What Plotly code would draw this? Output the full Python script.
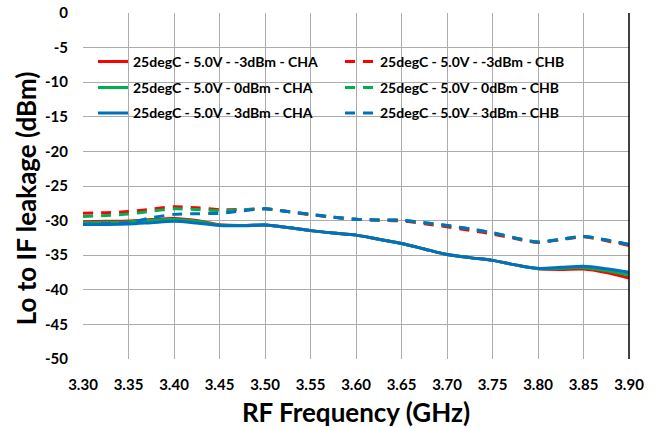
import plotly.graph_objects as go

freq = [3.300, 3.325, 3.350, 3.375, 3.400, 3.425, 3.450, 3.475, 3.500, 3.525,
        3.550, 3.575, 3.600, 3.625, 3.650, 3.675, 3.700, 3.725, 3.750, 3.775,
        3.800, 3.825, 3.850, 3.875, 3.900]

cha_m3 = [-30.15, -30.10, -30.05, -29.85, -29.70, -30.00, -30.60, -30.70, -30.65, -31.00,
          -31.45, -31.80, -32.10, -32.70, -33.30, -34.10, -34.90, -35.35, -35.75, -36.40,
          -36.95, -37.05, -37.00, -37.50, -38.30]
cha_0 = [-30.30, -30.25, -30.20, -29.95, -29.85, -30.10, -30.65, -30.70, -30.65, -31.00,
         -31.45, -31.80, -32.10, -32.70, -33.30, -34.10, -34.90, -35.35, -35.75, -36.40,
         -36.95, -36.90, -36.80, -37.25, -37.85]
cha_3 = [-30.55, -30.55, -30.50, -30.30, -30.10, -30.35, -30.70, -30.75, -30.65, -31.00,
         -31.45, -31.80, -32.10, -32.70, -33.30, -34.10, -34.90, -35.35, -35.75, -36.40,
         -36.90, -36.75, -36.60, -36.95, -37.45]

chb_m3 = [-28.95, -28.85, -28.70, -28.35, -28.00, -28.15, -28.40, -28.40, -28.30, -28.70,
          -29.15, -29.50, -29.80, -29.95, -30.05, -30.45, -30.90, -31.40, -31.95, -32.60,
          -33.15, -32.75, -32.35, -32.90, -33.60]
chb_0 = [-29.40, -29.25, -29.05, -28.65, -28.30, -28.40, -28.55, -28.45, -28.30, -28.70,
         -29.10, -29.50, -29.80, -29.90, -29.95, -30.30, -30.70, -31.20, -31.75, -32.50,
         -33.10, -32.70, -32.30, -32.80, -33.45]
chb_3 = [-30.55, -30.45, -30.30, -29.60, -29.10, -29.00, -28.95, -28.60, -28.30, -28.70,
         -29.10, -29.50, -29.80, -29.90, -29.95, -30.30, -30.70, -31.20, -31.75, -32.50,
         -33.10, -32.70, -32.30, -32.80, -33.45]

names = ["25degC - 5.0V - -3dBm - CHA", "25degC - 5.0V - -3dBm - CHB",
         "25degC - 5.0V - 0dBm - CHA", "25degC - 5.0V - 0dBm - CHB",
         "25degC - 5.0V - 3dBm - CHA", "25degC - 5.0V - 3dBm - CHB"]

y_tick_vals = [0, -5, -10, -15, -20, -25, -30, -35, -40, -45, -50]
y_tick_text = ["0", "-5", "-10", "-15", "-20", "-25", "-30", "-35", "-40", "-45", "-50"]

x_title = "RF Frequency (GHz)"
y_title = "Lo to IF leakage (dBm)"

FONT = "Lato"
RED, GREEN, BLUE = "#ff0000", "#00b050", "#0070c0"
DASH = "10px,8px"

series = [
    (cha_m3, names[0], RED, "solid", "legend"),
    (chb_m3, names[1], RED, DASH, "legend"),
    (cha_0, names[2], GREEN, "solid", "legend2"),
    (chb_0, names[3], GREEN, DASH, "legend2"),
    (cha_3, names[4], BLUE, "solid", "legend3"),
    (chb_3, names[5], BLUE, DASH, "legend3"),
]

fig = go.Figure()
for vals, nm, col, dash, lg in series:
    fig.add_trace(go.Scatter(
        x=freq, y=vals, name=nm, mode="lines",
        line=dict(color=col, width=3, dash=dash, shape="spline", smoothing=0.8),
        legend=lg,
    ))

# white legend background covering gridlines
fig.add_shape(type="rect", xref="paper", yref="paper", x0=0.0147, x1=0.9835,
              y0=0.670, y1=0.898, fillcolor="white", line=dict(width=0), layer="between")
# black right border
fig.add_shape(type="line", xref="paper", yref="paper", x0=1, x1=1, y0=0, y1=1,
              line=dict(color="black", width=1.5), layer="above")

# y axis title (placed like the reference, slightly below the plot centre)
fig.add_annotation(text=y_title, xref="paper", yref="paper", x=-0.104, y=0.465,
                   xanchor="center", yanchor="middle", textangle=-90, showarrow=False,
                   font=dict(family=FONT, size=26, color="black", weight="bold"))

legend_common = dict(orientation="h", xanchor="left", yanchor="middle",
                     x=0.0183, bgcolor="rgba(0,0,0,0)", borderwidth=0,
                     entrywidth=202, entrywidthmode="pixels",
                     font=dict(family=FONT, size=14, color="black", weight="bold"))

fig.update_layout(
    width=658, height=428,
    margin=dict(l=83, r=29, t=13, b=69, autoexpand=False),
    paper_bgcolor="white", plot_bgcolor="white",
    font=dict(family=FONT, color="black"),
    showlegend=True,
    legend=dict(y=0.8586, **legend_common),
    legend2=dict(y=0.7836, **legend_common),
    legend3=dict(y=0.7098, **legend_common),
    xaxis=dict(
        range=[3.30, 3.90], dtick=0.05, tick0=3.30, tickformat=".2f",
        showgrid=True, gridcolor="#ababab", gridwidth=1,
        showline=False, zeroline=False, ticks="", automargin=False,
        ticklabelstandoff=15, ticklabeloverflow="allow",
        tickfont=dict(family=FONT, size=15, color="black", weight="bold"),
        title=dict(text=x_title, standoff=12,
                   font=dict(family=FONT, size=26, color="black", weight="bold")),
    ),
    yaxis=dict(
        range=[-50, 0], tickvals=y_tick_vals, ticktext=y_tick_text,
        showgrid=True, gridcolor="#ababab", gridwidth=1,
        showline=False, zeroline=False, ticks="", automargin=False,
        ticklabelstandoff=14, ticklabeloverflow="allow",
        tickfont=dict(family=FONT, size=15, color="black", weight="bold"),
    ),
)

fig.write_html("out.html", config={"displayModeBar": False},
               post_script="document.body.style.margin='0';")
